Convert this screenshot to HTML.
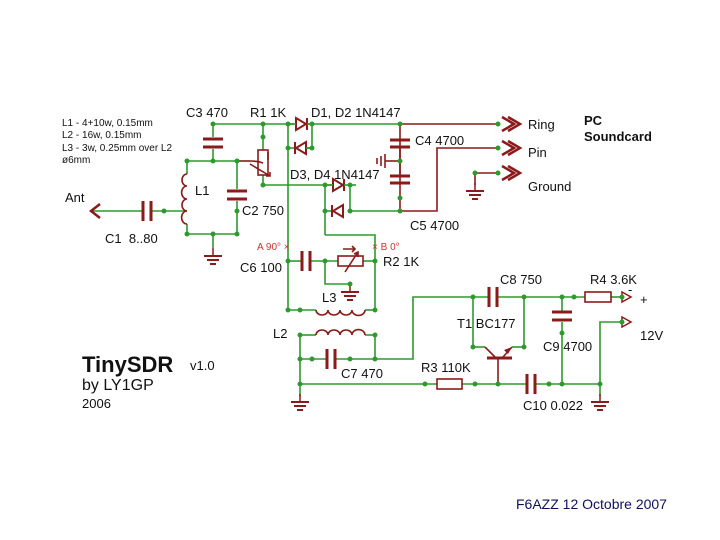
<!DOCTYPE html>
<html><head><meta charset="utf-8"><style>
html,body{margin:0;padding:0;background:#fff;}
svg{display:block;}
text{font-family:"Liberation Sans",Arial,sans-serif;}
</style></head><body>
<svg width="720" height="540" viewBox="0 0 720 540" xmlns="http://www.w3.org/2000/svg">
<defs>
<g id="gnd"><line x1="0" y1="0" x2="0" y2="8" stroke="#8b1a1a" stroke-width="1.5"/><line x1="-9" y1="8" x2="9" y2="8" stroke="#8b1a1a" stroke-width="2"/><line x1="-6" y1="12" x2="6" y2="12" stroke="#8b1a1a" stroke-width="2"/><line x1="-3" y1="16" x2="3" y2="16" stroke="#8b1a1a" stroke-width="2"/></g>
</defs>
<g fill="none" stroke="#2e9a2e" stroke-width="1.6">
<!-- top rail -->
<polyline points="213,124 400,124"/>
<line x1="213" y1="124" x2="213" y2="137"/><line x1="213" y1="149" x2="213" y2="161"/>
<!-- middle line -->
<polyline points="187,161 237,161"/>
<!-- L1 -->
<line x1="187" y1="161" x2="187" y2="174"/><line x1="187" y1="224" x2="187" y2="234"/>
<!-- Ant line -->
<line x1="92" y1="211" x2="143" y2="211"/><line x1="151" y1="211" x2="187" y2="211"/>
<!-- C2 -->
<line x1="237" y1="161" x2="237" y2="189"/><line x1="237" y1="201" x2="237" y2="234"/>
<line x1="187" y1="234" x2="237" y2="234"/><line x1="213" y1="234" x2="213" y2="248"/>
<!-- R1 -->
<line x1="263" y1="124" x2="263" y2="150"/><line x1="263" y1="175" x2="263" y2="185"/>
<line x1="263" y1="185" x2="340" y2="185"/>
<!-- x=288 vertical -->
<line x1="288" y1="124" x2="288" y2="310"/>
<line x1="288" y1="148" x2="296" y2="148"/>
<line x1="312" y1="124" x2="312" y2="148"/><line x1="306" y1="148" x2="312" y2="148"/>
<!-- D3 D4 -->
<line x1="325" y1="185" x2="325" y2="235"/><line x1="325" y1="211" x2="340" y2="211"/>
<line x1="350" y1="185" x2="350" y2="211"/><line x1="350" y1="185" x2="356" y2="185"/>
<line x1="350" y1="211" x2="400" y2="211"/>
<polyline points="325,235 375,235 375,310"/>
<!-- C6 R2 row -->
<line x1="288" y1="261" x2="302" y2="261"/><line x1="310" y1="261" x2="338" y2="261"/><line x1="363" y1="261" x2="375" y2="261"/>
<polyline points="325,261 325,284 350,284"/>
<!-- L3 -->
<line x1="288" y1="310" x2="316" y2="310"/><line x1="365" y1="310" x2="375" y2="310"/>
<!-- L2 -->
<line x1="300" y1="335" x2="316" y2="335"/><line x1="365" y1="335" x2="375" y2="335"/>
<line x1="300" y1="335" x2="300" y2="396"/>
<line x1="300" y1="359" x2="327" y2="359"/><line x1="335" y1="359" x2="375" y2="359"/>
<line x1="375" y1="335" x2="375" y2="359"/>
<polyline points="375,359 413,359 413,297 489,297"/>
<line x1="497" y1="297" x2="585" y2="297"/><line x1="611" y1="297" x2="622" y2="297"/>
<!-- T1 -->
<line x1="473" y1="297" x2="473" y2="347"/><line x1="524" y1="297" x2="524" y2="347"/>
<line x1="473" y1="347" x2="485" y2="347"/><line x1="512" y1="347" x2="524" y2="347"/>
<!-- C9 -->
<line x1="562" y1="297" x2="562" y2="311"/><line x1="562" y1="322" x2="562" y2="384"/>
<!-- bottom rail -->
<line x1="300" y1="384" x2="437" y2="384"/><line x1="462" y1="384" x2="527" y2="384"/><line x1="535" y1="384" x2="600" y2="384"/>
<polyline points="600,396 600,322 622,322"/>
</g>
<!-- red wires -->
<g fill="none" stroke="#8b1a1a" stroke-width="1.6">
<line x1="400" y1="124" x2="500" y2="124"/>
<line x1="237" y1="161" x2="250" y2="161"/><path d="M250,161 Q258,161 263,163"/>
<line x1="400" y1="124" x2="400" y2="211"/>
<polyline points="400,211 437,211 437,148 500,148"/>
<polyline points="475,185 475,173 500,173"/>
<line x1="385" y1="161" x2="400" y2="161"/>
<line x1="498" y1="359" x2="498" y2="384"/>
</g>
<!-- arrows -->
<g fill="none" stroke="#8b1a1a" stroke-width="2.5">
<polyline points="100,204 91,211 100,218"/>
<polyline points="502,117 514,124 502,131"/><polyline points="508,117 520,124 508,131"/>
<polyline points="502,141 514,148 502,155"/><polyline points="508,141 520,148 508,155"/>
<polyline points="502,166 514,173 502,180"/><polyline points="508,166 520,173 508,180"/>
</g>
<g fill="#fff" stroke="#8b1a1a" stroke-width="1.5">
<polygon points="622,292 631,297 622,302"/>
<polygon points="622,317 631,322 622,327"/>
</g>
<!-- capacitors -->
<g stroke="#8b1a1a" stroke-width="3">
<line x1="203" y1="139" x2="223" y2="139"/><line x1="203" y1="147" x2="223" y2="147"/>
<line x1="227" y1="191" x2="247" y2="191"/><line x1="227" y1="199" x2="247" y2="199"/>
<line x1="143" y1="201" x2="143" y2="221"/><line x1="151" y1="201" x2="151" y2="221"/>
<line x1="390" y1="140" x2="410" y2="140"/><line x1="390" y1="147" x2="410" y2="147"/>
<line x1="390" y1="176" x2="410" y2="176"/><line x1="390" y1="183" x2="410" y2="183"/>
<line x1="302" y1="251" x2="302" y2="271"/><line x1="310" y1="251" x2="310" y2="271"/>
<line x1="327" y1="349" x2="327" y2="369"/><line x1="335" y1="349" x2="335" y2="369"/>
<line x1="489" y1="287" x2="489" y2="307"/><line x1="497" y1="287" x2="497" y2="307"/>
<line x1="552" y1="312" x2="572" y2="312"/><line x1="552" y1="320" x2="572" y2="320"/>
<line x1="527" y1="374" x2="527" y2="394"/><line x1="535" y1="374" x2="535" y2="394"/>
<line x1="487" y1="358" x2="512" y2="358"/>
</g>
<g stroke="#8b1a1a" stroke-width="1.6" fill="none">
<line x1="400" y1="147" x2="400" y2="176"/>
<!-- C4 ground sideways -->
<line x1="385" y1="154" x2="385" y2="168"/><line x1="381" y1="156" x2="381" y2="166"/><line x1="377" y1="158" x2="377" y2="164"/>
<!-- L1 coil -->
<path d="M187,174 a5,6 0 0 0 0,12 a5,6 0 0 0 0,13 a5,6 0 0 0 0,12 a5,6 0 0 0 0,13"/>
<path d="M316,310 a6,5 0 0 0 12,0 a6,5 0 0 0 12,0 a6,5 0 0 0 12,0 a6,5 0 0 0 13,0"/>
<path d="M316,335 a6,5 0 0 1 12,0 a6,5 0 0 1 12,0 a6,5 0 0 1 12,0 a6,5 0 0 1 13,0"/>
<!-- resistors -->
<rect x="258" y="150" width="10" height="25"/>
<path d="M250,164 L270,176 M266,176 L270,176 L270,172"/>
<line x1="268" y1="152" x2="268" y2="160"/>
<rect x="338" y="256" width="25" height="10"/>
<path d="M345,272 L358,252 M354,254 L358,252 L358,257"/>
<path d="M343,249 L355,249 M352,246 L355,249 L352,252"/>
<rect x="585" y="292" width="26" height="10"/>
<rect x="437" y="379" width="25" height="10"/>
<!-- transistor -->
<line x1="485" y1="347" x2="495" y2="357"/><line x1="503" y1="357" x2="512" y2="347"/>
</g>
<polygon points="512,347 504,350 508,354" fill="#8b1a1a"/>
<!-- diodes -->
<g fill="#fff" stroke="#8b1a1a" stroke-width="2">
<polygon points="296,118 296,130 306,124"/><line x1="307" y1="118" x2="307" y2="130"/>
<polygon points="306,142 306,154 296,148"/><line x1="295" y1="142" x2="295" y2="154"/>
<polygon points="333,179 333,191 343,185"/><line x1="344" y1="179" x2="344" y2="191"/>
<polygon points="343,205 343,217 333,211"/><line x1="332" y1="205" x2="332" y2="217"/>
</g>
<g fill="none" stroke="#2e9a2e" stroke-width="1.6">
<line x1="288" y1="124" x2="296" y2="124"/><line x1="307" y1="124" x2="312" y2="124"/>
<line x1="306" y1="148" x2="312" y2="148"/>
<line x1="325" y1="185" x2="333" y2="185"/><line x1="344" y1="185" x2="350" y2="185"/>
</g>
<!-- grounds -->
<use href="#gnd" x="213" y="248"/><use href="#gnd" x="475" y="183"/><use href="#gnd" x="350" y="284"/>
<use href="#gnd" x="300" y="394"/><use href="#gnd" x="600" y="394"/>
<!-- nodes -->
<g fill="#2e9a2e">
<circle cx="213" cy="124" r="2.5"/><circle cx="263" cy="124" r="2.5"/><circle cx="288" cy="124" r="2.5"/><circle cx="312" cy="124" r="2.5"/><circle cx="400" cy="124" r="2.5"/><circle cx="498" cy="124" r="2.5"/>
<circle cx="263" cy="137" r="2.5"/><circle cx="288" cy="148" r="2.5"/><circle cx="312" cy="148" r="2.5"/>
<circle cx="187" cy="161" r="2.5"/><circle cx="213" cy="161" r="2.5"/><circle cx="237" cy="161" r="2.5"/><circle cx="400" cy="161" r="2.5"/>
<circle cx="498" cy="148" r="2.5"/><circle cx="498" cy="173" r="2.5"/><circle cx="475" cy="173" r="2.5"/>
<circle cx="263" cy="185" r="2.5"/><circle cx="325" cy="185" r="2.5"/><circle cx="350" cy="185" r="2.5"/>
<circle cx="237" cy="211" r="2.5"/><circle cx="164" cy="211" r="2.5"/><circle cx="325" cy="211" r="2.5"/><circle cx="350" cy="211" r="2.5"/><circle cx="400" cy="211" r="2.5"/><circle cx="400" cy="198" r="2.5"/>
<circle cx="187" cy="234" r="2.5"/><circle cx="213" cy="234" r="2.5"/><circle cx="237" cy="234" r="2.5"/>
<circle cx="288" cy="261" r="2.5"/><circle cx="325" cy="261" r="2.5"/><circle cx="375" cy="261" r="2.5"/><circle cx="350" cy="284" r="2.5"/>
<circle cx="288" cy="310" r="2.5"/><circle cx="300" cy="310" r="2.5"/><circle cx="375" cy="310" r="2.5"/>
<circle cx="300" cy="335" r="2.5"/><circle cx="375" cy="335" r="2.5"/>
<circle cx="300" cy="359" r="2.5"/><circle cx="312" cy="359" r="2.5"/><circle cx="350" cy="359" r="2.5"/><circle cx="375" cy="359" r="2.5"/>
<circle cx="473" cy="297" r="2.5"/><circle cx="524" cy="297" r="2.5"/><circle cx="562" cy="297" r="2.5"/><circle cx="574" cy="297" r="2.5"/><circle cx="622" cy="297" r="2.5"/><circle cx="622" cy="322" r="2.5"/>
<circle cx="473" cy="347" r="2.5"/><circle cx="524" cy="347" r="2.5"/><circle cx="562" cy="333" r="2.5"/>
<circle cx="300" cy="384" r="2.5"/><circle cx="425" cy="384" r="2.5"/><circle cx="475" cy="384" r="2.5"/><circle cx="498" cy="384" r="2.5"/><circle cx="549" cy="384" r="2.5"/><circle cx="562" cy="384" r="2.5"/><circle cx="600" cy="384" r="2.5"/>
</g>
<!-- labels -->
<g font-size="13" fill="#111">
<text x="186" y="117">C3 470</text><text x="250" y="117">R1 1K</text><text x="311" y="117">D1, D2 1N4147</text>
<text x="415" y="145">C4 4700</text><text x="290" y="179">D3, D4 1N4147</text><text x="410" y="230">C5 4700</text>
<text x="195" y="195">L1</text><text x="242" y="215">C2 750</text><text x="105" y="243">C1&#160;&#160;8..80</text><text x="65" y="202">Ant</text>
<text x="240" y="272">C6 100</text><text x="383" y="266">R2 1K</text><text x="322" y="302">L3</text><text x="273" y="338">L2</text>
<text x="341" y="378">C7 470</text><text x="500" y="284">C8 750</text><text x="590" y="284">R4 3.6K</text>
<text x="457" y="328">T1 BC177</text><text x="543" y="351">C9 4700</text><text x="421" y="372">R3 110K</text>
<text x="523" y="410">C10 0.022</text><text x="640" y="340">12V</text><text x="640" y="304">+</text><text x="628" y="294">-</text>
<text x="528" y="129">Ring</text><text x="528" y="157">Pin</text><text x="528" y="191">Ground</text>
</g>
<text x="584" y="125" font-size="13" font-weight="bold" fill="#111">PC</text>
<text x="584" y="141" font-size="13" font-weight="bold" fill="#111">Soundcard</text>
<g font-size="10" fill="#c33"><text x="257" y="250">A 90° ×</text><text x="372" y="250">× B 0°</text></g>
<g font-size="10" fill="#111">
<text x="62" y="126">L1 - 4+10w, 0.15mm</text><text x="62" y="138">L2 - 16w, 0.15mm</text>
<text x="62" y="151">L3 - 3w, 0.25mm over L2</text><text x="62" y="163">ø6mm</text>
</g>
<text x="82" y="372" font-size="22" font-weight="bold" fill="#111">TinySDR</text>
<text x="190" y="370" font-size="13" fill="#111">v1.0</text>
<text x="82" y="390" font-size="16" fill="#111">by LY1GP</text>
<text x="82" y="408" font-size="13" fill="#111">2006</text>
<text x="516" y="509" font-size="14" fill="#10105a">F6AZZ 12 Octobre 2007</text>
</svg>
</body></html>
